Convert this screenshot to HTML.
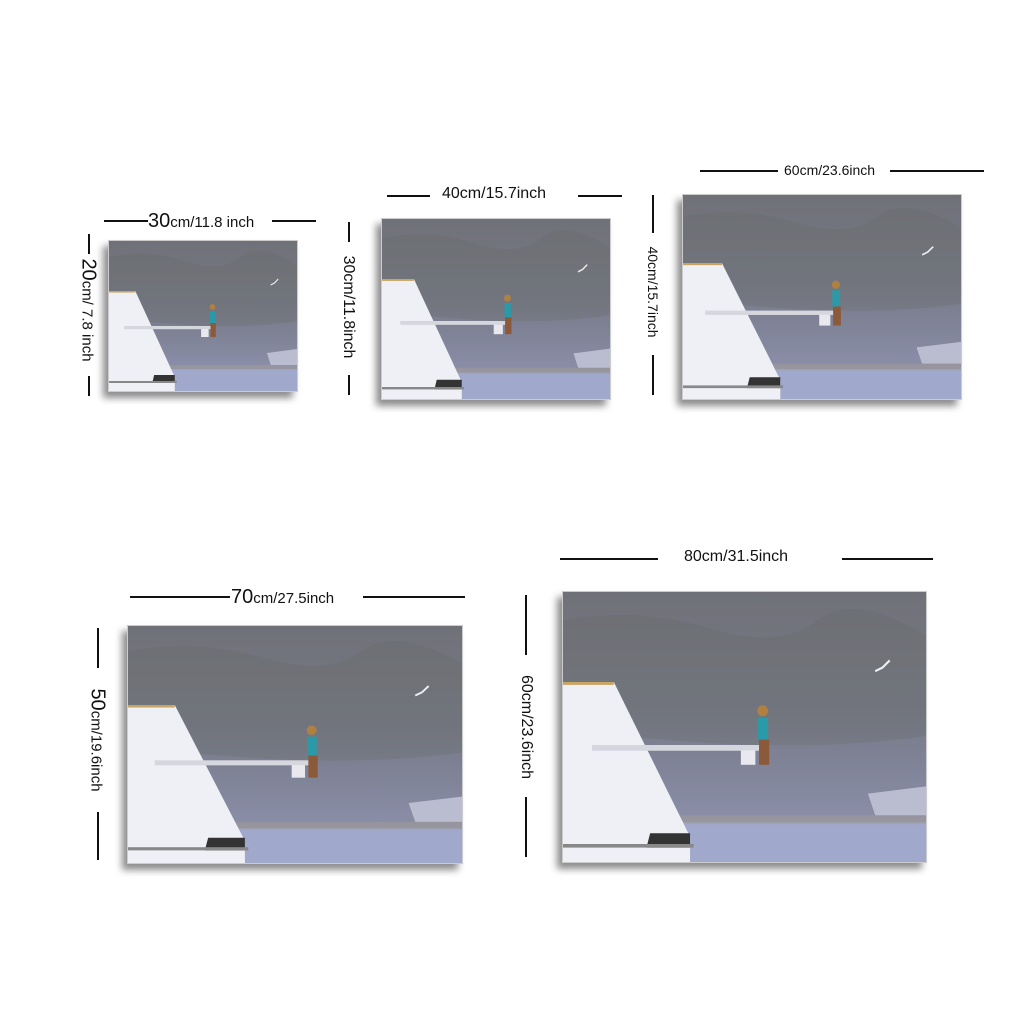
<!DOCTYPE html>
<html><head><meta charset="utf-8"><style>
body{margin:0;width:1024px;height:1024px;background:#fff;position:relative;overflow:hidden;font-family:"Liberation Sans",sans-serif;color:#111}
.fr{position:absolute;box-shadow:-5px 6px 7px rgba(0,0,0,.45);border:1px solid #ccc;overflow:hidden}
.fr svg{width:100%;height:100%;display:block}
.ln{position:absolute;height:2px;background:#111}
.vl{position:absolute;width:2px;background:#111}
.lb{position:absolute;white-space:nowrap;font-size:15px}
.vt{position:absolute;white-space:nowrap;font-size:15px;transform:translate(-50%,-50%) rotate(90deg)}
</style></head><body>
<svg width="0" height="0" style="position:absolute"><defs>
<linearGradient id="sky" x1="0" y1="0" x2="0" y2="1"><stop offset="0" stop-color="#707178"/><stop offset="0.45" stop-color="#777a88"/><stop offset="0.85" stop-color="#8a8ea8"/></linearGradient>
<g id="scene">
<rect width="100" height="75" fill="url(#sky)"/>
<path d="M0 8 Q20 4 40 10 T70 8 T100 12 L100 40 Q60 46 0 38Z" fill="#65665e" opacity=".25"/>
<rect x="0" y="64" width="100" height="11" fill="#a0a8cc"/>
<rect x="0" y="62" width="100" height="2.5" fill="#a49e98" opacity=".5"/>
<path d="M84 56 L100 54 L100 62 L86 62Z" fill="#b9bdcf"/>
<path d="M0 25 L14 25 L35 68 L35 75 L0 75Z" fill="#eef0f6"/>
<rect x="0" y="25" width="14" height="0.8" fill="#c9a560"/>
<path d="M24 67 L35 67 L35 71 L23 71Z" fill="#333"/>
<rect x="0" y="70" width="36" height="1" fill="#888"/>
<rect x="8" y="42.5" width="47" height="1.6" fill="#d6d6de"/>
<rect x="49" y="44" width="4" height="4" fill="#e8e8ee"/>
<circle cx="55" cy="33" r="1.5" fill="#b08040"/>
<rect x="53.7" y="35" width="2.8" height="6" fill="#2a9aa8"/>
<rect x="54" y="41" width="2.8" height="7" fill="#8a5a3a"/>
<path d="M86 22 L88 21 L90 19" stroke="#eee" stroke-width=".6" fill="none"/>
</g></defs></svg>

<div class="fr" style="left:108px;top:240px;width:188px;height:150px"><svg viewBox="0 0 100 75" preserveAspectRatio="none"><use href="#scene"/></svg></div>
<div class="fr" style="left:381px;top:218px;width:228px;height:180px"><svg viewBox="0 0 100 75" preserveAspectRatio="none"><use href="#scene"/></svg></div>
<div class="fr" style="left:682px;top:194px;width:278px;height:204px"><svg viewBox="0 0 100 75" preserveAspectRatio="none"><use href="#scene"/></svg></div>
<div class="fr" style="left:127px;top:625px;width:334px;height:237px"><svg viewBox="0 0 100 75" preserveAspectRatio="none"><use href="#scene"/></svg></div>
<div class="fr" style="left:562px;top:591px;width:363px;height:270px"><svg viewBox="0 0 100 75" preserveAspectRatio="none"><use href="#scene"/></svg></div>

<div class="ln" style="left:104px;top:220px;width:44px"></div><div class="ln" style="left:272px;top:220px;width:44px"></div>
<div class="lb" style="left:148px;top:210px"><span style="font-size:20px">30</span>cm/11.8 inch</div>
<div class="vl" style="left:88px;top:234px;height:20px"></div><div class="vl" style="left:88px;top:376px;height:20px"></div>
<div class="vt" style="left:88px;top:310px"><span style="font-size:20px">20</span>cm/ 7.8 inch</div>

<div class="ln" style="left:387px;top:195px;width:43px"></div><div class="ln" style="left:578px;top:195px;width:44px"></div>
<div class="lb" style="left:442px;top:185px;font-size:16px">40cm/15.7inch</div>
<div class="vl" style="left:348px;top:222px;height:20px"></div><div class="vl" style="left:348px;top:375px;height:20px"></div>
<div class="vt" style="left:348px;top:307px;font-size:16px">30cm/11.8inch</div>

<div class="ln" style="left:700px;top:170px;width:78px"></div><div class="ln" style="left:890px;top:170px;width:94px"></div>
<div class="lb" style="left:784px;top:162px;font-size:14px">60cm/23.6inch</div>
<div class="vl" style="left:652px;top:195px;height:38px"></div><div class="vl" style="left:652px;top:355px;height:40px"></div>
<div class="vt" style="left:653px;top:292px;font-size:14px">40cm/15.7inch</div>

<div class="ln" style="left:130px;top:596px;width:100px"></div><div class="ln" style="left:363px;top:596px;width:102px"></div>
<div class="lb" style="left:231px;top:586px"><span style="font-size:20px">70</span>cm/27.5inch</div>
<div class="vl" style="left:97px;top:628px;height:40px"></div><div class="vl" style="left:97px;top:812px;height:48px"></div>
<div class="vt" style="left:97px;top:740px"><span style="font-size:20px">50</span>cm/19.6inch</div>

<div class="ln" style="left:560px;top:558px;width:98px"></div><div class="ln" style="left:842px;top:558px;width:91px"></div>
<div class="lb" style="left:684px;top:548px;font-size:16px">80cm/31.5inch</div>
<div class="vl" style="left:525px;top:595px;height:60px"></div><div class="vl" style="left:525px;top:797px;height:60px"></div>
<div class="vt" style="left:526px;top:727px;font-size:16px">60cm/23.6inch</div>
</body></html>
